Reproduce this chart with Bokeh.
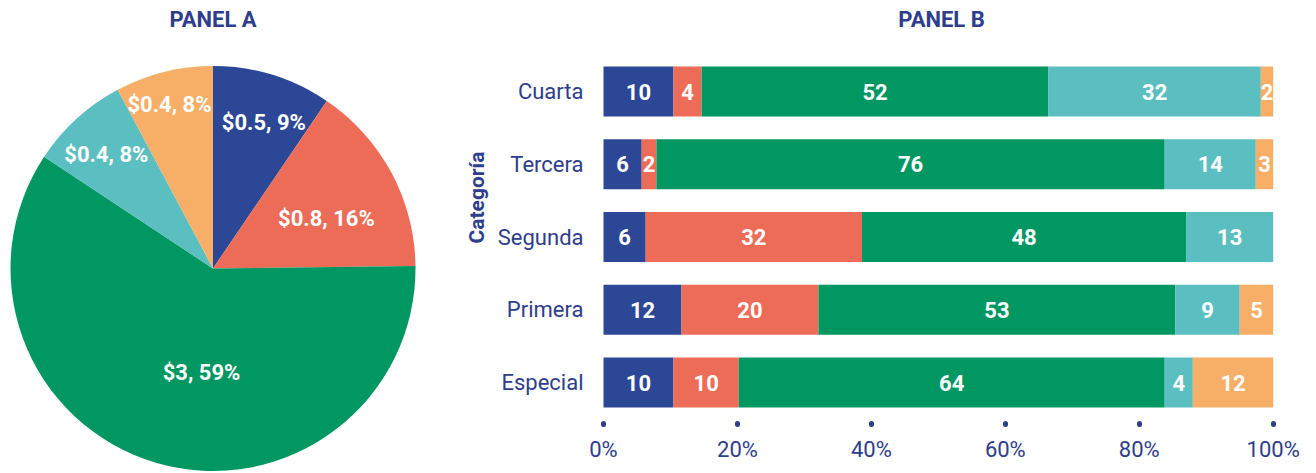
import numpy as np
from math import pi
from bokeh.plotting import figure
from bokeh.layouts import row
from bokeh.models import Range1d, Label, FixedTicker, ColumnDataSource, Title
from bokeh.core.properties import value
from bokeh.embed import file_html
from bokeh.resources import INLINE

# ---------------- data ----------------
# Panel A (pie)
pie_amounts = ["$0.5", "$0.8", "$3", "$0.4", "$0.4"]
pie_percent_labels = ["9%", "16%", "59%", "8%", "8%"]
pie_shares = [9.5, 15.3, 59.5, 7.9, 7.8]

# Panel B (stacked bars, percent of each category)
categories = ["Cuarta", "Tercera", "Segunda", "Primera", "Especial"]
series1 = [10.45, 5.7, 6.3, 11.65, 10.45]
series2 = [4.2, 2.2, 32.3, 20.45, 9.75]
series3 = [51.8, 75.9, 48.4, 53.3, 63.6]
series4 = [31.7, 13.6, 13.0, 9.6, 4.2]
series5 = [1.85, 2.6, 0.0, 5.0, 12.0]
labels1 = ["10", "6", "6", "12", "10"]
labels2 = ["4", "2", "32", "20", "10"]
labels3 = ["52", "76", "48", "53", "64"]
labels4 = ["32", "14", "13", "9", "4"]
labels5 = ["2", "3", "", "5", "12"]
x_ticks = [0, 20, 40, 60, 80, 100]
x_tick_labels = ["0%", "20%", "40%", "60%", "80%", "100%"]

# ---------------- style ----------------
COLORS = ["#2d4797", "#ec6c57", "#009763", "#5bbec0", "#f7ae66"]
TEXT = "#2e3d8c"
FONT = "Roboto"
H = 473

# ---------------- Panel A ----------------
PIE_W = 440
R_PX = 202.5
CX, CY = 212.5, 268  # pie centre, px from figure's top-left
p1 = figure(width=PIE_W, height=H, output_backend="svg", toolbar_location=None,
            x_range=Range1d(-CX / R_PX, (PIE_W - CX) / R_PX),
            y_range=Range1d(-(H - CY) / R_PX, CY / R_PX),
            x_axis_location=None, y_axis_location=None, min_border=0)
p1.grid.visible = False
p1.outline_line_color = None

shares = np.array(pie_shares) / np.sum(pie_shares)
cum = np.concatenate([[0.0], np.cumsum(shares)])
start = pi / 2 - 2 * pi * cum[1:]
end = pi / 2 - 2 * pi * cum[:-1]
p1.wedge(x=0, y=0, radius=1, start_angle=start, end_angle=end,
         direction="anticlock", fill_color=COLORS, line_color=None)

label_r = [0.763, 0.611, 0.515, 0.771, 0.836]
label_deg = [19.2, 66.4, 186.3, 316.9, 345.1]  # clockwise from 12 o'clock
th = pi / 2 - np.radians(label_deg)
pie_text = [f"{a}, {b}" for a, b in zip(pie_amounts, pie_percent_labels)]
p1.text(x=np.array(label_r) * np.cos(th), y=np.array(label_r) * np.sin(th), text=pie_text,
        text_align="center", text_baseline="middle", text_color="white",
        text_font=value(FONT), text_font_size="22px", text_font_style="bold")

p1.add_layout(Label(x=212.5, y=H - 18.8, x_units="screen", y_units="screen", text="PANEL A",
                    text_align="center", text_baseline="middle", text_color=TEXT,
                    text_font=FONT, text_font_size="22px", text_font_style="bold"))

# ---------------- Panel B ----------------
ROW_PX = 72.75           # px between bar centres
TOP_C, BOT_C = 91, 382   # px of first / last bar centre
BAR0, BAR100 = 603, 1272.7   # px of 0% and 100%
FR_L, FR_R = 586, 1312       # frame edges (px), a bit wider than the bars
LABEL_RIGHT = 583            # px where category labels end
PX_PER = (BAR100 - BAR0) / 100
n = len(categories)
ypos = np.arange(n)[::-1]
y_end = (n - 1) + TOP_C / ROW_PX
y_start = -(H - BOT_C) / ROW_PX
P2_W = 1316 - PIE_W
p2 = figure(width=P2_W, height=H, output_backend="svg", toolbar_location=None,
            y_range=Range1d(y_start, y_end),
            x_range=Range1d(-(BAR0 - FR_L) / PX_PER, 100 + (FR_R - BAR100) / PX_PER),
            min_border_left=FR_L - PIE_W, min_border_right=1316 - FR_R,
            min_border_top=0, min_border_bottom=0)
p2.grid.visible = False
p2.outline_line_color = None

series = [series1, series2, series3, series4, series5]
labels = [labels1, labels2, labels3, labels4, labels5]
left = np.zeros(n)
for vals, labs, col in zip(series, labels, COLORS):
    vals = np.array(vals)
    right = left + vals
    p2.hbar(y=ypos, left=left, right=right, height=0.687, fill_color=col, line_color=None)
    keep = [i for i, t in enumerate(labs) if t]
    src = ColumnDataSource(dict(x=[(left[i] + right[i]) / 2 for i in keep],
                                y=[ypos[i] for i in keep],
                                t=[labs[i] for i in keep]))
    p2.text(x="x", y="y", text="t", source=src, text_align="center", text_baseline="middle",
            text_color="white", text_font=value(FONT), text_font_size="22px", text_font_style="bold")
    left = right

xa = p2.xaxis[0]
xa.fixed_location = -0.5
xa.ticker = FixedTicker(ticks=x_ticks)
xa.major_label_overrides = dict(zip(x_ticks, x_tick_labels))
xa.axis_line_color = None
xa.minor_tick_line_color = None
xa.major_tick_line_color = TEXT
xa.major_tick_line_width = 5
xa.major_tick_line_cap = "round"
xa.major_tick_in = -5
xa.major_tick_out = 6
xa.major_label_standoff = 12
xa.major_label_text_font = FONT
xa.major_label_text_font_size = "22px"
xa.major_label_text_color = TEXT

ya = p2.yaxis[0]
ya.ticker = FixedTicker(ticks=list(ypos))
ya.major_label_overrides = {int(k): c for k, c in zip(ypos, categories)}
ya.axis_line_color = None
ya.major_tick_line_color = None
ya.minor_tick_line_color = None
ya.major_tick_out = 0
ya.major_tick_in = 0
ya.major_label_standoff = FR_L - LABEL_RIGHT
ya.major_label_text_font = FONT
ya.major_label_text_font_size = "22px"
ya.major_label_text_color = TEXT

p2.add_layout(Title(text="Categoría", align="left", offset=230, standoff=12,
                    text_color=TEXT, text_font=FONT, text_font_size="21px",
                    text_font_style="bold"), "left")
p2.add_layout(Label(x=941 - FR_L, y=H - 18.8, x_units="screen", y_units="screen", text="PANEL B",
                    text_align="center", text_baseline="middle", text_color=TEXT,
                    text_font=FONT, text_font_size="22px", text_font_style="bold"))

layout = row(p1, p2)
open("out.html", "w").write(file_html(layout, INLINE))
